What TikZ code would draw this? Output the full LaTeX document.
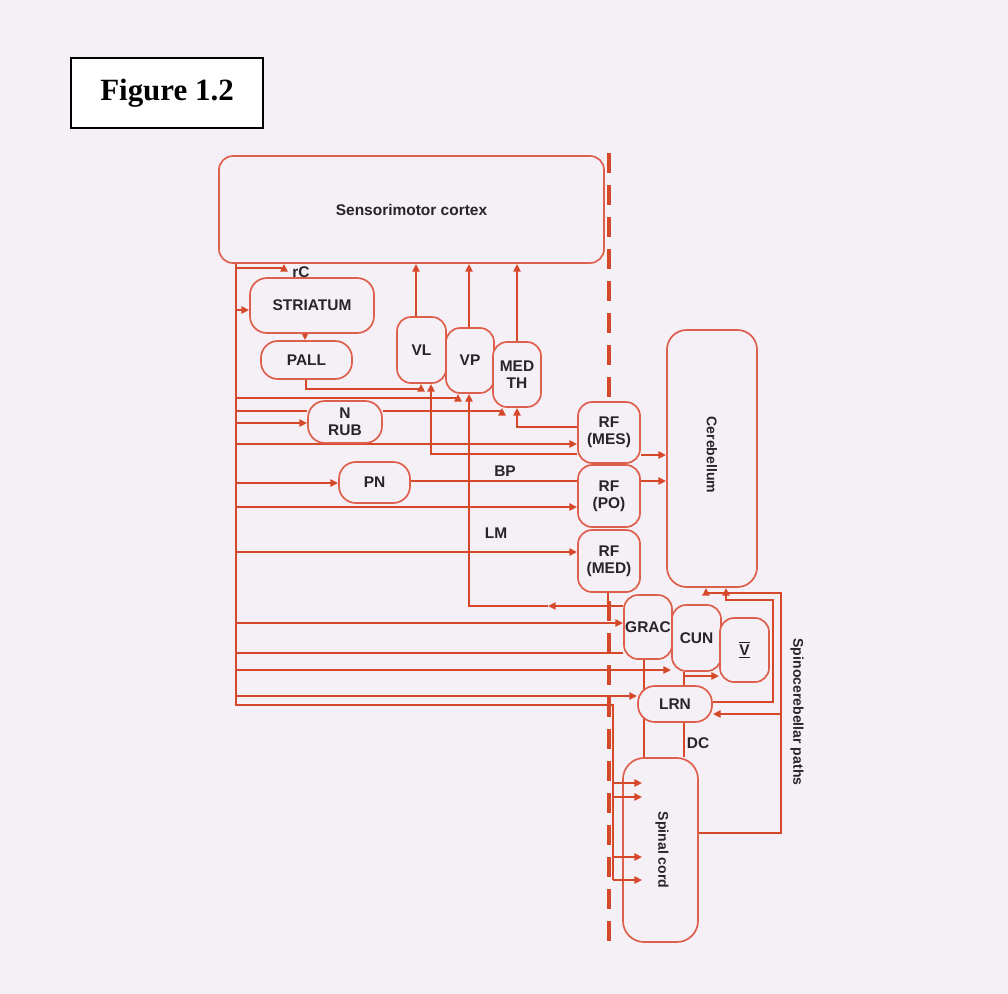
\documentclass[tikz,border=0pt]{standalone}
\usepackage{fontspec}
\setmainfont{Liberation Sans}
\newfontfamily\figfont{Liberation Serif}
\usetikzlibrary{positioning,arrows.meta,calc,backgrounds}
\definecolor{paper}{RGB}{245,239,246}
\definecolor{nerve}{RGB}{214,72,42}
\definecolor{rim}{RGB}{222,96,76}
\definecolor{ink}{RGB}{40,36,40}
\tikzset{
  wire/.style={draw=nerve,line width=1.7pt},
  arr/.style={wire,-{Triangle[length=5.5pt,width=5pt]}},
  nuc/.style={draw=rim,fill=paper,line width=1.2pt,rounded corners=10pt,inner sep=0pt,
    align=center,text=ink,font=\fontsize{11}{12}\selectfont\bfseries},
  midline/.style={draw=nerve,line width=2.2pt,dash pattern=on 0.5cm off 0.3cm},
  lbl/.style={text=ink,font=\fontsize{11}{12}\selectfont\bfseries,inner sep=1pt},
  vlbl/.style={text=ink,font=\fontsize{10}{12}\selectfont\bfseries,inner sep=1pt,rotate=-90},
  figbox/.style={draw=black,fill=white,line width=1.3pt,minimum width=4.8cm,minimum height=1.75cm,
    font=\figfont\fontsize{22}{24}\selectfont\bfseries},
}

\begin{document}
\begin{tikzpicture}[x=0.025cm,y=-0.025cm]
  \useasboundingbox (0,0) rectangle (1008,994);
  \node[figbox] (fig) at (167,93) {Figure 1.2\hspace{0.35cm}};
  % cortex, basal ganglia
  \node[nuc,minimum width=9.625cm,minimum height=2.675cm] (cortex) at (411.5,209.5) {Sensorimotor cortex};
  \node[nuc,rounded corners=12pt,minimum width=3.1cm,minimum height=1.375cm] (striatum) at (312,305.5) {STRIATUM};
  \node[nuc,rounded corners=12pt,minimum width=2.275cm,minimum height=0.95cm] (pall) at (306.5,360) {PALL};
  % thalamus
  \node[nuc,minimum width=1.225cm,minimum height=1.65cm] (VL) at (421.5,350) {VL};
  \node[nuc,minimum width=1.2cm,minimum height=1.625cm] (VP) at (470,360.5) {VP};
  \node[nuc,minimum width=1.2cm,minimum height=1.625cm] (medth) at (517,374.5) {MED\\TH};
  % brainstem
  \node[nuc,rounded corners=12pt,minimum width=1.85cm,minimum height=1.05cm] (nrub) at (345,422) {N\\RUB};
  \node[nuc,rounded corners=12pt,minimum width=1.775cm,minimum height=1.025cm] (pn) at (374.5,482.5) {PN};
  \node[nuc,minimum width=1.55cm,minimum height=1.525cm] (rfmes) at (609,432.5) {RF\\(MES)};
  \node[nuc,minimum width=1.55cm,minimum height=1.55cm] (rfpo) at (609,496) {RF\\(PO)};
  \node[nuc,minimum width=1.55cm,minimum height=1.55cm] (rfmed) at (609,561) {RF\\(MED)};
  \node[nuc,rounded corners=14pt,minimum width=2.25cm,minimum height=6.425cm] (cereb) at (712,458.5) {};
  \node[vlbl] (cerebtxt) at (712,455) {Cerebellum};
  % dorsal column nuclei
  \node[nuc,minimum width=1.2cm,minimum height=1.6cm] (grac) at (648,627) {GRAC};
  \node[nuc,minimum width=1.225cm,minimum height=1.65cm] (cun) at (696.5,638) {CUN};
  \node[nuc,minimum width=1.225cm,minimum height=1.6cm] (V) at (744.5,650) {$\overline{\underline{\hbox{V}}}$};
  \node[nuc,rounded corners=12pt,minimum width=1.85cm,minimum height=0.9cm] (lrn) at (675,704) {LRN};
  \node[nuc,rounded corners=15pt,minimum width=1.875cm,minimum height=4.6cm] (sc) at (660.5,850) {};
  \node[vlbl] (sctxt) at (662,850) {Spinal cord};
  % labels
  \node[lbl] (rc) at (301,272) {rC};
  \node[lbl] (bp) at (505,471) {BP};
  \node[lbl] (lm) at (496,533) {LM};
  \node[lbl] (dc) at (698,743) {DC};
  \node[vlbl] (spino) at (797,712) {Spinocerebellar paths};
  \coordinate (trunk) at (cortex.south -| 236,0);

  \begin{scope}[on background layer]
    \fill[paper] (0,0) rectangle (1008,994);
    % corticofugal trunk
    \draw[wire] (trunk) -- (trunk |- 0,705) -- (613,705) -- (613,880);
    \draw[arr] (trunk |- 0,268) -| (cortex.south -| 284,0);
    \draw[arr] (trunk |- 0,310) -- (striatum.west |- 0,310);
    \draw[wire] (trunk |- 0,411) -- (nrub.west |- 0,411);
    \draw[wire] (trunk |- 0,653) -- (grac.west |- 0,653);
    \foreach \y/\tgt in {423/nrub,444/rfmes,483/pn,507/rfpo,552/rfmed,623/grac,670/cun,696/lrn}
      \draw[arr] (trunk |- 0,\y) -- (\tgt.west |- 0,\y);
    \draw[arr] (trunk |- 0,398) -| (VP.south -| 458,0);
    % thalamocortical
    \foreach \n/\x in {VL/416,VP/469,medth/517}
      \draw[arr] (\n.north -| \x,0) -- (cortex.south -| \x,0);
    \draw[arr] (striatum.south -| 305,0) -- (pall.north -| 305,0);
    \draw[arr] (pall.south -| 306,0) -- (306,389) -| (VL.south -| 421,0);
    \draw[arr] (nrub.east |- 0,411) -| (medth.south -| 502,0);
    \draw[arr] (rfmes.west |- 0,427) -| (medth.south -| 517,0);
    \draw[arr] (rfmes.west |- 0,454) -| (VL.south -| 431,0);
    \draw[wire] (pn.east |- 0,481) -- (rfpo.west |- 0,481);
    \draw[arr] (rfmes.east |- 0,455) -- (cereb.west |- 0,455);
    \draw[arr] (rfpo.east |- 0,481) -- (cereb.west |- 0,481);
    % lemniscus
    \draw[arr] (grac.west |- 0,606) -- (548,606);
    \draw[arr] (548,606) -| (VP.south -| 469,0);
    \draw[wire] (rfmed.south -| 608,0) -- (608,606);
    % dorsal columns
    \draw[wire] (grac.south -| 644,0) -- (sc.north -| 644,0);
    \draw[wire] (cun.south -| 684,0) -- (sc.north -| 684,0);
    \draw[arr] (684,676) -- (V.west |- 0,676);
    % spinocerebellar
    \draw[arr] (lrn.east |- 0,702) -| (773,600) -| (cereb.south -| 726,0);
    \draw[arr] (sc.east |- 0,833) -| (781,593) -| (cereb.south -| 706,0);
    \draw[arr] (781,714) -- (lrn.east |- 0,714);
    % midline
    \draw[midline] (609,153) -- (609,950);
  \end{scope}
  \foreach \y in {783,797,857,880}
    \draw[arr] (613,\y) -- ($(sc.west |- 0,\y)+(20,0)$);
\end{tikzpicture}
\end{document}
